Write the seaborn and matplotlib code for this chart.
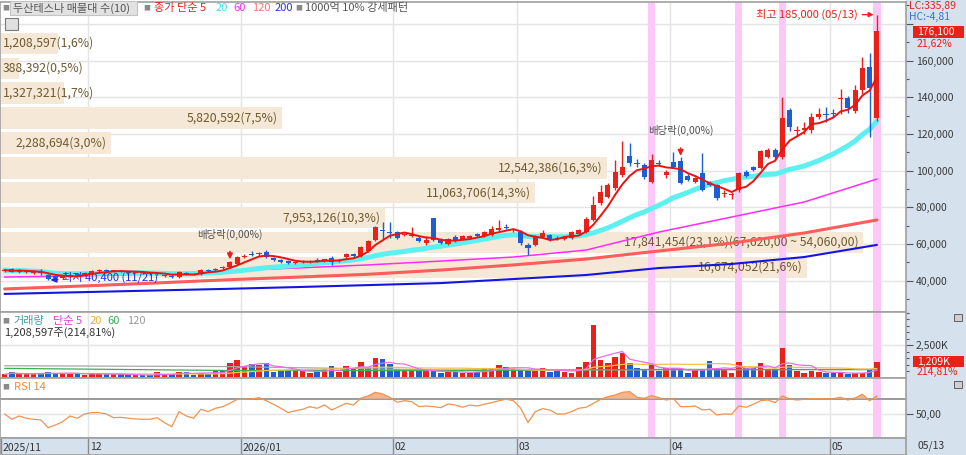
import numpy as np
import pandas as pd
import matplotlib
matplotlib.use("Agg")
import matplotlib.pyplot as plt
from matplotlib.patches import Rectangle
import seaborn as sns

sns.set_theme(style="white")
plt.rcParams['font.family'] = ['Noto Sans CJK KR', 'DejaVu Sans']
plt.rcParams['axes.unicode_minus'] = False

# daily candles, 2025/11/13 ~ 2026/05/13
opens = [45300, 46200, 44700, 44700, 44200, 44400, 43100, 42600, 41500, 42600,
         43600, 43300, 44200, 45300, 45500, 45100, 45500, 44900, 44400, 44900,
         44200, 43600, 42600, 42800, 42000, 44200, 43600, 43600, 45800, 45800,
         46900, 47200, 49000, 52900, 54500, 54500, 55600, 52400, 51300, 50700,
         49600, 50200, 50200, 51300, 50700, 52400, 50700, 52900, 54500, 53500,
         56200, 62200, 67600, 66500, 66500, 65000, 64400, 63300, 60500, 74100,
         62200, 59900, 63800, 62700, 63300, 65500, 64400, 64900, 67600, 69300,
         67600, 66500, 59500, 59500, 63800, 64900, 63300, 62700, 63300, 65500,
         66500, 73100, 82300, 85600, 90500, 97600, 108000, 104100, 103100, 93800,
         104100, 97600, 104700, 105200, 97100, 93800, 98700, 93200, 92200, 87200,
         86700, 89400, 99200, 102000, 101400, 107400, 111200, 107400, 133000, 121600,
         122100, 122100, 129200, 130600, 131400, 139000, 139600, 132500, 143900, 156500,
         128700]
highs = [46400, 46900, 46400, 45800, 45300, 46400, 43600, 43100, 43100, 43600,
         44200, 44700, 45800, 46400, 46200, 46000, 46000, 45300, 45400, 45200,
         44600, 44400, 43300, 43100, 45300, 44700, 44200, 46200, 46400, 46700,
         47800, 51000, 53500, 54500, 56200, 55600, 56700, 53000, 51800, 51300,
         50700, 51300, 51300, 52400, 52000, 53500, 51800, 55100, 55100, 58900,
         62200, 69800, 72000, 72000, 67100, 66000, 69300, 64400, 64400, 74100,
         63300, 63300, 64900, 65000, 64900, 66000, 67100, 69800, 73000, 70900,
         68700, 67600, 60500, 65000, 67600, 65500, 64400, 64400, 67100, 68200,
         74700, 86000, 92000, 93200, 105800, 116400, 115300, 106400, 104100, 109000,
         105800, 100300, 110100, 107400, 98200, 96500, 109600, 94300, 92700, 89400,
         88300, 99200, 100300, 102500, 111200, 112300, 112300, 140100, 134100, 124300,
         126500, 131400, 134100, 134600, 133500, 144500, 140600, 146700, 161900, 164100,
         185000]
lows = [44700, 44700, 44200, 44200, 43600, 43100, 40400, 41000, 41000, 42000,
        42600, 42800, 43600, 44700, 44400, 44600, 44500, 44000, 44000, 43800,
        43200, 43100, 42000, 41700, 41700, 43300, 43000, 43300, 45000, 45300,
        46400, 46900, 48600, 52400, 53500, 53500, 52400, 50900, 49700, 49100,
        49100, 49600, 49600, 50200, 50200, 48600, 50200, 52400, 53000, 53000,
        55600, 61600, 62700, 63300, 62700, 64400, 63800, 61100, 59500, 61600,
        59900, 59400, 61100, 62200, 62700, 63800, 63800, 64400, 67100, 68200,
        66500, 59500, 54000, 58900, 63300, 61600, 62200, 62200, 62700, 65000,
        66000, 72500, 81300, 85100, 89400, 96500, 102500, 102000, 95400, 93200,
        102500, 96000, 101400, 92700, 94300, 93200, 88900, 91600, 84000, 85600,
        84600, 88300, 96500, 99700, 100900, 106900, 106400, 106400, 121600, 118800,
        120000, 120500, 128000, 126500, 129200, 130600, 131400, 131400, 141700, 118300,
        127000]
closes = [45800, 45000, 45800, 44900, 44400, 44200, 41000, 41500, 42600, 43100,
          43300, 44200, 45300, 45500, 45100, 45500, 44900, 44400, 44900, 44200,
          43600, 43900, 42800, 42000, 44700, 43900, 43300, 45800, 45300, 46200,
          47200, 50200, 52900, 53500, 54200, 55100, 52900, 51300, 50200, 49600,
          50200, 50700, 50900, 51000, 51600, 50200, 51300, 54500, 53500, 58400,
          61600, 69300, 67100, 66000, 63300, 65500, 65000, 61600, 62200, 62200,
          60500, 62700, 61600, 64400, 64400, 64400, 66500, 68200, 68700, 68700,
          68200, 60500, 57800, 64400, 66000, 62200, 62700, 63800, 66500, 67600,
          73600, 81300, 88300, 92200, 99200, 102000, 104100, 103600, 96500, 105800,
          103600, 99200, 101900, 93200, 94900, 96000, 89400, 92200, 85100, 87800,
          87200, 98700, 97100, 100300, 110700, 111200, 107400, 128700, 123800, 122100,
          123200, 129200, 130900, 130300, 131100, 139600, 134100, 143900, 155900, 144800,
          176100]
# volume in thousand shares
volume_k = [263, 417, 289, 289, 289, 340, 442, 289, 340, 340,
            289, 212, 391, 263, 263, 263, 263, 186, 186, 186,
            186, 417, 212, 263, 468, 468, 212, 391, 289, 519,
            519, 1109, 1366, 904, 1032, 981, 1161, 468, 596, 596,
            519, 519, 340, 468, 647, 904, 468, 904, 699, 1238,
            724, 1494, 1443, 1032, 699, 596, 545, 545, 545, 519,
            340, 468, 468, 391, 391, 468, 647, 724, 981, 801,
            673, 647, 699, 519, 724, 468, 519, 468, 391, 852,
            1238, 4058, 1366, 1161, 1622, 1879, 1109, 724, 647, 1032,
            519, 724, 724, 596, 391, 596, 596, 1289, 647, 647,
            391, 1238, 724, 724, 1161, 647, 596, 2264, 981, 519,
            391, 519, 468, 340, 340, 391, 263, 391, 391, 647,
            1209]
rsi14 = [50.4, 43.6, 47.8, 44.9, 43.6, 42.7, 32.8, 36.3, 40.5, 47.8,
         44.9, 50.4, 52.1, 52.1, 50.4, 45.6, 46.1, 44.9, 44.0, 43.6,
         43.6, 45.6, 39.3, 34.1, 53.4, 47.8, 44.9, 56.4, 53.4, 57.7,
         59.8, 64.1, 69.2, 69.2, 69.6, 71.3, 67.4, 62.8, 57.7, 52.1,
         54.6, 56.4, 59.8, 57.7, 61.9, 55.5, 59.8, 64.1, 61.9, 70.5,
         73.5, 78.2, 76.0, 71.8, 65.4, 67.4, 66.2, 59.8, 60.6, 59.8,
         58.5, 63.2, 61.9, 59.0, 61.9, 60.6, 62.8, 64.9, 67.4, 69.2,
         67.4, 57.7, 39.2, 53.4, 57.2, 55.5, 50.4, 50.4, 53.4, 57.7,
         59.0, 64.1, 69.2, 72.6, 74.7, 78.2, 79.0, 71.8, 70.5, 73.9,
         71.3, 68.3, 70.0, 59.8, 59.8, 60.6, 55.5, 56.4, 49.1, 50.4,
         50.0, 60.6, 59.0, 62.8, 67.4, 68.3, 64.9, 73.5, 69.6, 68.3,
         69.2, 70.0, 70.0, 69.6, 70.0, 71.8, 68.3, 70.9, 75.6, 67.4,
         73.5]

# long moving averages (need history before the window) read at every 10th day
ma_days = [0, 10, 20, 30, 40, 50, 60, 70, 80, 90, 100, 110, 120]
ma60 = [42000, 42600, 43600, 45300, 46900, 48600, 50700, 52900, 56700, 66500, 74700, 82900, 95400]
ma120 = [35500, 37000, 38600, 40400, 41900, 43500, 45800, 48600, 51800, 56200, 60500, 66000, 73100]
ma200 = [32800, 33700, 34600, 35500, 36500, 37600, 38700, 40900, 43100, 46900, 49100, 52900, 59500]
vma_days = [0, 30, 60, 90, 120]
vma60_k = [720, 560, 540, 640, 620]
vma120_k = [920, 860, 600, 600, 640]

month_start = [12, 33, 54, 71, 92, 114]
month_labels = ["12", "2026/01", "02", "03", "04", "05"]
pattern_days = [89, 101, 107, 120]   # 1000억 10% 강세패턴
dividend_days = [31, 93]             # 배당락

# 매물대 (10 price bins)
vp_volume = [16674052, 17841454, 7953126, 11063706, 12542386, 2288694, 5820592, 1327321, 388392, 1208597]
vp_pct = [21.6, 23.1, 10.3, 14.3, 16.3, 3.0, 7.5, 1.7, 0.5, 1.6]
vp_low, vp_step = 40500, 13560

RED = '#e8211a'
BLUE = '#1d5fd2'
W, H = 966, 455
X0, X1 = -0.63, 124.0

df = pd.DataFrame({'day': np.arange(len(closes)), 'open': opens, 'high': highs, 'low': lows,
                   'close': closes, 'volume': np.array(volume_k) * 1000, 'rsi': rsi14})
df['ma5'] = df['close'].rolling(5, min_periods=1).mean()
df['ma20'] = df['close'].rolling(20, min_periods=1).mean()
df['vma5'] = df['volume'].rolling(5, min_periods=1).mean()
df['vma20'] = df['volume'].rolling(20, min_periods=1).mean()
ma = pd.DataFrame({'day': ma_days, 'ma60': ma60, 'ma120': ma120, 'ma200': ma200})
vma = pd.DataFrame({'day': vma_days, 'v60': np.array(vma60_k) * 1000, 'v120': np.array(vma120_k) * 1000})
cols = np.where(df['close'] >= df['open'], RED, BLUE)

fig = plt.figure(figsize=(W / 100, H / 100), dpi=100)


def box(x0, y0, x1, y1):
    return [x0 / W, 1 - y1 / H, (x1 - x0) / W, (y1 - y0) / H]


def ftext(x, y, s, **kw):
    kw.setdefault('fontsize', 8)
    kw.setdefault('va', 'center')
    return fig.text(x / W, 1 - y / H, s, **kw)


def frect(x0, y0, x1, y1, **kw):
    fig.add_artist(Rectangle((x0 / W, 1 - y1 / H), (x1 - x0) / W, (y1 - y0) / H,
                             transform=fig.transFigure, **kw))


frect(906, 0, W, H, fc='#d6e1ee', ec='none', zorder=-1)

ax_p = fig.add_axes(box(0, 2, 906, 312))
ax_v = fig.add_axes(box(0, 312, 906, 378))
ax_r = fig.add_axes(box(0, 378, 906, 438))
ax_d = fig.add_axes(box(0, 438, 906, 455))

for ax in (ax_p, ax_v, ax_r):
    ax.set_xlim(X0, X1)
    ax.set_xticks([m - 0.5 for m in month_start])
    ax.tick_params(axis='x', length=0, labelbottom=False)
    ax.grid(True, color='#e4e4e4', lw=1)
    ax.set_axisbelow(True)
    for s in ax.spines.values():
        s.set_color('#a0a0a0')
        s.set_linewidth(1.2)
    ax.yaxis.tick_right()
    ax.tick_params(axis='y', which='both', left=False, right=True, labelleft=False, labelright=True,
                   direction='out', color='#555555', labelcolor='#3a3a3a', labelsize=7.5, pad=2)
    ax.tick_params(axis='y', which='major', length=5, width=0.8)
    ax.tick_params(axis='y', which='minor', length=2.5, width=0.8)
    for d in pattern_days:
        ax.axvspan(d - 0.5, d + 0.5, color='#fcc8fa', lw=0, zorder=0.7)

# ---- price panel ----
ax_p.set_ylim(22940, 191890)
pt = list(range(40000, 180001, 20000))
# 180,000 label sits behind the current-price box, keep only its gridline
ax_p.set_yticks(pt, [f"{t:,}" if t < 180000 else "" for t in pt])
ax_p.set_yticks(list(range(30000, 190001, 10000)), minor=True)

upx = (X1 - X0) / 906
vmax = max(vp_volume)
for k, (v, pc) in enumerate(zip(vp_volume, vp_pct)):
    lo = vp_low + k * vp_step
    mid = lo + vp_step / 2
    w = v / vmax * 863 * upx
    ax_p.barh(mid, w, height=vp_step * 0.86, left=X0, color='#f6e8d6', lw=0, zorder=0.6)
    lbl = f"{v:,}({pc:.1f}%)".replace('.', ',')
    if v == vmax:
        lbl += f"({lo + vp_step:,.2f} ~ {lo:,.2f})".replace('.', ',')
    if w / upx > 100:
        ax_p.text(X0 + w - 4 * upx, mid, lbl, ha='right', va='center', fontsize=8.8, color='#6f5a30', zorder=1.5)
    else:
        ax_p.text(X0 + 3 * upx, mid, lbl, ha='left', va='center', fontsize=8.8, color='#6f5a30', zorder=1.5)

sns.lineplot(data=ma, x='day', y='ma200', ax=ax_p, color='#1515e0', lw=1.5, zorder=2)
sns.lineplot(data=ma, x='day', y='ma120', ax=ax_p, color='#ff5c5c', lw=2.2, zorder=2)
sns.lineplot(data=ma, x='day', y='ma60', ax=ax_p, color='#ff2cff', lw=1.1, zorder=2)
sns.lineplot(data=df, x='day', y='ma20', ax=ax_p, color='#5cf0f0', lw=3.6, zorder=2.5)

ax_p.vlines(df['day'], df['low'], df['high'], colors=cols, lw=1, zorder=3)
body = np.maximum((df['close'] - df['open']).abs(), 500)
ax_p.bar(df['day'], body, bottom=np.minimum(df['open'], df['close']), width=0.7,
         color=cols, lw=0, zorder=4)
sns.lineplot(data=df, x='day', y='ma5', ax=ax_p, color='#ee1111', lw=1.4, zorder=5)
ax_p.set_xlabel('')
ax_p.set_ylabel('')

imax = int(np.argmax(highs))
ax_p.annotate(f"최고 {highs[imax]:,} (05/13)", xy=(imax - 0.45, highs[imax]), xytext=(-16, 0),
              textcoords='offset pixels', ha='right', va='center', fontsize=8, color=RED, zorder=6,
              arrowprops=dict(arrowstyle='-|>', color=RED, lw=1, mutation_scale=7, shrinkA=1, shrinkB=0))
imin = int(np.argmin(lows))
ax_p.annotate(f"최저 {lows[imin]:,} (11/21)", xy=(imin + 0.3, lows[imin]), xytext=(12, 3),
              textcoords='offset pixels', ha='left', va='center', fontsize=8, color='#2030d0', zorder=3,
              arrowprops=dict(arrowstyle='-|>', color='#2030d0', lw=1.2, mutation_scale=8, shrinkA=1, shrinkB=0))
for d in dividend_days:
    ax_p.annotate("배당락(0,00%)", xy=(d, highs[d] + 600), xytext=(0, 25), textcoords='offset pixels',
                  ha='center', va='center', fontsize=7.5, color='#505050', zorder=6,
                  arrowprops=dict(arrowstyle='-|>', color=RED, lw=1.2, mutation_scale=8, shrinkA=6, shrinkB=0))

# ---- volume panel ----
ax_v.set_ylim(-23000, 5.06e6)
ax_v.bar(df['day'], df['volume'], width=0.76, color=cols, lw=0, zorder=2)
sns.lineplot(data=vma, x='day', y='v120', ax=ax_v, color='#a8a8a8', lw=0.9, zorder=3)
sns.lineplot(data=vma, x='day', y='v60', ax=ax_v, color='#3fae55', lw=0.9, zorder=3)
sns.lineplot(data=df, x='day', y='vma20', ax=ax_v, color='#f5c04a', lw=0.9, zorder=3)
sns.lineplot(data=df, x='day', y='vma5', ax=ax_v, color='#ec6ce6', lw=0.9, zorder=3)
ax_v.set_yticks([2500000], ["2,500K"])
ax_v.set_yticks(list(range(500000, 5000001, 500000)), minor=True)
ax_v.set_xlabel('')
ax_v.set_ylabel('')

# ---- RSI panel ----
ax_r.set_ylim(19.6, 96.5)
ax_r.axhline(70, color='#9a9a9a', lw=1.4, zorder=1)
ax_r.fill_between(df['day'], df['rsi'], 70, where=df['rsi'] >= 70, interpolate=True,
                  color='#f5b48c', lw=0, zorder=2)
sns.lineplot(data=df, x='day', y='rsi', ax=ax_r, color='#f3924e', lw=0.9, zorder=3)
ax_r.set_yticks([50], ["50,00"])
ax_r.set_xlabel('')
ax_r.set_ylabel('')

# ---- date band ----
ax_d.set_facecolor('#d6e1ee')
ax_d.set_xlim(X0, X1)
ax_d.set_ylim(0, 1)
ax_d.set_xticks([])
ax_d.set_yticks([])
for s in ax_d.spines.values():
    s.set_color('#a0a0a0')
bounds = [-0.5] + [m - 0.5 for m in month_start]
ax_d.vlines(bounds, 0, 1, colors='#8a8a8a', lw=1)
for b, lbl in zip(bounds, ["2025/11"] + month_labels):
    ax_d.text(b + 0.2, 0.45, lbl, ha='left', va='center', fontsize=7.5, color='#333333')

# ---- legends / labels ----
sq = dict(color='#8a8a8a', fontsize=5)
ftext(2, 8, '■', **sq)
frect(10, 1, 137, 15, fc='#e2e2e2', ec='#c4c4c4', lw=0.8, zorder=2)
ftext(13, 8, '두산테스나 매물대 수(10)', color='#555555', zorder=3)
ftext(143, 8, '■', **sq)
ftext(154, 8, '종가 단순 5', color=RED)
ftext(216, 8, '20', color='#3fe0ec')
ftext(233, 8, '60', color='#f030f0')
ftext(252, 8, '120', color='#ff7070')
ftext(275, 8, '200', color='#3030f0')
ftext(295, 8, '■', **sq)
ftext(305, 8, '1000억 10% 강세패턴', color='#555555')
frect(5, 18, 18, 30, fc='#e0e0e0', ec='#7a7a7a', lw=0.8, zorder=2)

ftext(2, 321, '■', **sq)
ftext(13, 321, '거래량', color='#3aa0a8')
ftext(53, 321, '단순 5', color='#e040d0')
ftext(90, 321, '20', color='#f0b030')
ftext(107, 321, '60', color='#30b050')
ftext(127, 321, '120', color='#999999')
ftext(4, 333, '1,208,597주(214,81%)', color='#333333')

ftext(2, 387, '■', **sq)
ftext(14, 387, 'RSI 14', color='#f08a40')

ftext(909, 6, 'LC:335,89', color=RED, fontsize=7.5)
ftext(909, 17, 'HC:-4,81', color='#3b6fd6', fontsize=7.5)
frect(913, 26, 964, 38, fc=RED, ec='none', zorder=5)
ftext(917, 32, '176,100', color='white', fontsize=7.5, zorder=6)
ftext(917, 44, '21,62%', color=RED, fontsize=7.5)
frect(913, 356, 964, 367, fc=RED, ec='none', zorder=5)
ftext(917, 361.5, '1,209K', color='white', fontsize=7.5, zorder=6)
ftext(917, 372, '214,81%', color=RED, fontsize=7.5)
frect(954, 314, 962, 321, fc='#cfcfcf', ec='#606060', lw=0.7, zorder=5)
frect(954, 381, 962, 388, fc='#cfcfcf', ec='#606060', lw=0.7, zorder=5)
ftext(917, 446, '05/13', color='#333333', fontsize=7.5)

fig.savefig('out.png', dpi=100)
